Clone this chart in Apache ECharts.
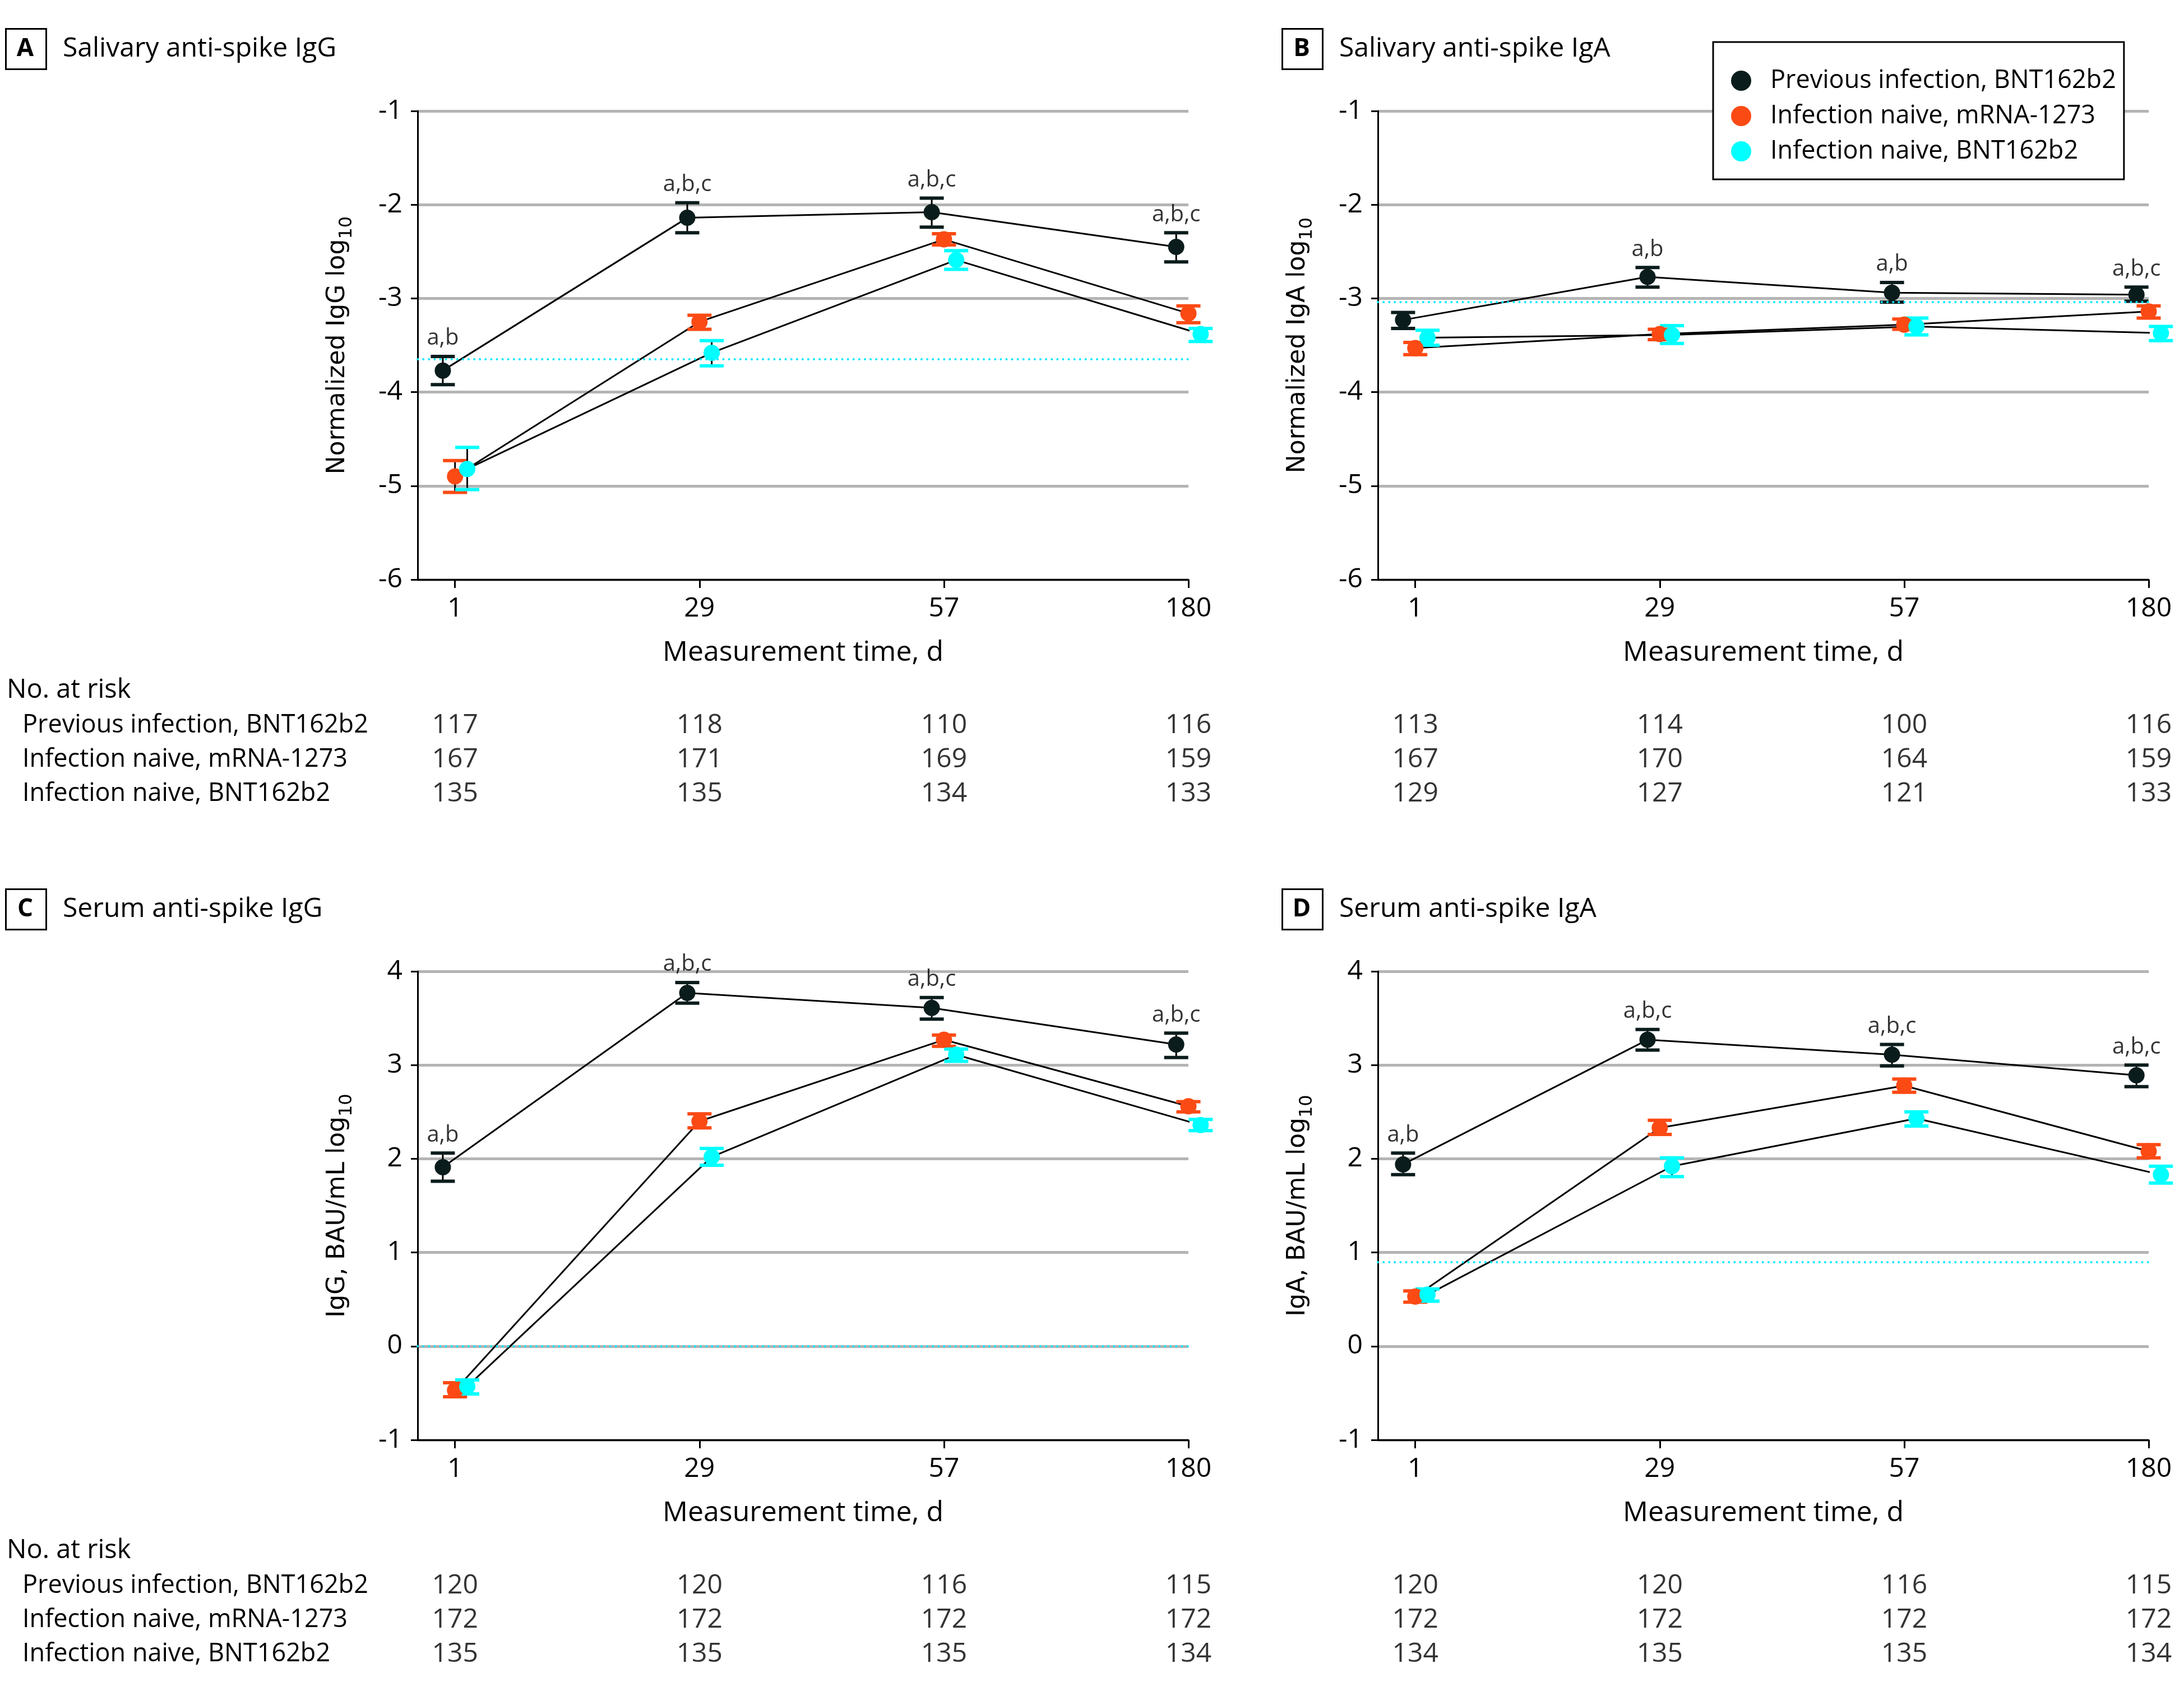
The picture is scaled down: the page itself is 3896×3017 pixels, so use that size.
<!DOCTYPE html>
<html><head><meta charset="utf-8">
<script src="https://cdn.jsdelivr.net/npm/echarts@6/dist/echarts.min.js"></script>
<style>html,body{margin:0;padding:0;background:#fff}#c{width:3896px;height:3017px}</style>
</head><body><div id="c"></div>
<script>
// ---------- DATA ----------
const timeLabels = ['1', '29', '57', '180'];
const groupNames = ['Previous infection, BNT162b2', 'Infection naive, mRNA-1273', 'Infection naive, BNT162b2'];

// Panel A: Salivary anti-spike IgG (normalized, log10)
const A_prev = [-3.77, -2.14, -2.08, -2.45];
const A_prev_lo = [-3.92, -2.30, -2.24, -2.61];
const A_prev_hi = [-3.62, -1.98, -1.93, -2.30];
const A_mrna = [-4.90, -3.25, -2.37, -3.16];
const A_mrna_lo = [-5.07, -3.33, -2.43, -3.26];
const A_mrna_hi = [-4.73, -3.18, -2.31, -3.08];
const A_bnt = [-4.82, -3.58, -2.59, -3.38];
const A_bnt_lo = [-5.04, -3.72, -2.69, -3.46];
const A_bnt_hi = [-4.59, -3.45, -2.49, -3.32];
const A_threshold = -3.65;
const A_ann = ['a,b', 'a,b,c', 'a,b,c', 'a,b,c'];
const A_risk_prev = [117, 118, 110, 116];
const A_risk_mrna = [167, 171, 169, 159];
const A_risk_bnt = [135, 135, 134, 133];

// Panel B: Salivary anti-spike IgA
const B_prev = [-3.23, -2.77, -2.94, -2.96];
const B_prev_lo = [-3.32, -2.88, -3.04, -3.03];
const B_prev_hi = [-3.15, -2.67, -2.83, -2.88];
const B_mrna = [-3.53, -3.38, -3.28, -3.14];
const B_mrna_lo = [-3.60, -3.44, -3.33, -3.21];
const B_mrna_hi = [-3.47, -3.33, -3.22, -3.08];
const B_bnt = [-3.42, -3.39, -3.30, -3.37];
const B_bnt_lo = [-3.50, -3.48, -3.39, -3.45];
const B_bnt_hi = [-3.34, -3.29, -3.21, -3.30];
const B_threshold = -3.04;
const B_ann = ['', 'a,b', 'a,b', 'a,b,c'];
const B_risk_prev = [113, 114, 100, 116];
const B_risk_mrna = [167, 170, 164, 159];
const B_risk_bnt = [129, 127, 121, 133];

// Panel C: Serum anti-spike IgG (BAU/mL, log10)
const C_prev = [1.91, 3.77, 3.61, 3.22];
const C_prev_lo = [1.76, 3.66, 3.49, 3.08];
const C_prev_hi = [2.06, 3.88, 3.72, 3.34];
const C_mrna = [-0.47, 2.40, 3.27, 2.56];
const C_mrna_lo = [-0.54, 2.33, 3.20, 2.50];
const C_mrna_hi = [-0.39, 2.48, 3.32, 2.61];
const C_bnt = [-0.43, 2.02, 3.11, 2.36];
const C_bnt_lo = [-0.51, 1.93, 3.04, 2.30];
const C_bnt_hi = [-0.36, 2.11, 3.17, 2.42];
const C_threshold = 0;
const C_ann = ['a,b', 'a,b,c', 'a,b,c', 'a,b,c'];
const C_risk_prev = [120, 120, 116, 115];
const C_risk_mrna = [172, 172, 172, 172];
const C_risk_bnt = [135, 135, 135, 134];

// Panel D: Serum anti-spike IgA
const D_prev = [1.94, 3.27, 3.11, 2.89];
const D_prev_lo = [1.83, 3.16, 2.99, 2.77];
const D_prev_hi = [2.06, 3.38, 3.22, 3.00];
const D_mrna = [0.53, 2.33, 2.78, 2.08];
const D_mrna_lo = [0.47, 2.26, 2.71, 2.01];
const D_mrna_hi = [0.59, 2.41, 2.85, 2.15];
const D_bnt = [0.55, 1.92, 2.43, 1.83];
const D_bnt_lo = [0.48, 1.81, 2.35, 1.74];
const D_bnt_hi = [0.61, 2.01, 2.50, 1.92];
const D_threshold = 0.90;
const D_ann = ['a,b', 'a,b,c', 'a,b,c', 'a,b,c'];
const D_risk_prev = [120, 120, 116, 115];
const D_risk_mrna = [172, 172, 172, 172];
const D_risk_bnt = [134, 135, 135, 134];

// ---------- LAYOUT / STYLE ----------
const FONT = "'Open Sans', 'Noto Sans', sans-serif";
const YFONT = "'DejaVu Sans', sans-serif";
const colors = ['#0b1c1c', '#fc4a14', '#00ffff'];
const dodge = [-0.05, 0, 0.05];
const X_MIN = -0.153, X_MAX = 3;
const GRID_W = 1375;
const GRID_H = 836;

const panels = [
  {letter: 'A', title: 'Salivary anti-spike IgG', yName: 'Normalized IgG log', yMin: -6, yMax: -1,
   mean: [A_prev, A_mrna, A_bnt], lo: [A_prev_lo, A_mrna_lo, A_bnt_lo], hi: [A_prev_hi, A_mrna_hi, A_bnt_hi],
   thr: A_threshold, ann: A_ann, risk: [A_risk_prev, A_risk_mrna, A_risk_bnt], left: 745, top: 198, col: 0},
  {letter: 'B', title: 'Salivary anti-spike IgA', yName: 'Normalized IgA log', yMin: -6, yMax: -1,
   mean: [B_prev, B_mrna, B_bnt], lo: [B_prev_lo, B_mrna_lo, B_bnt_lo], hi: [B_prev_hi, B_mrna_hi, B_bnt_hi],
   thr: B_threshold, ann: B_ann, risk: [B_risk_prev, B_risk_mrna, B_risk_bnt], left: 2458, top: 198, col: 1},
  {letter: 'C', title: 'Serum anti-spike IgG', yName: 'IgG, BAU/mL log', yMin: -1, yMax: 4,
   mean: [C_prev, C_mrna, C_bnt], lo: [C_prev_lo, C_mrna_lo, C_bnt_lo], hi: [C_prev_hi, C_mrna_hi, C_bnt_hi],
   thr: C_threshold, ann: C_ann, risk: [C_risk_prev, C_risk_mrna, C_risk_bnt], left: 745, top: 1733, col: 0},
  {letter: 'D', title: 'Serum anti-spike IgA', yName: 'IgA, BAU/mL log', yMin: -1, yMax: 4,
   mean: [D_prev, D_mrna, D_bnt], lo: [D_prev_lo, D_mrna_lo, D_bnt_lo], hi: [D_prev_hi, D_mrna_hi, D_bnt_hi],
   thr: D_threshold, ann: D_ann, risk: [D_risk_prev, D_risk_mrna, D_risk_bnt], left: 2458, top: 1733, col: 1}
];

function makeErr(color) {
  return function (params, api) {
    const x = api.value(0), lo = api.value(1), hi = api.value(2);
    const pHi = api.coord([x, hi]), pLo = api.coord([x, lo]);
    const hw = 21.5, th = 6;
    return {type: 'group', children: [
      {type: 'line', shape: {x1: pHi[0], y1: pHi[1], x2: pLo[0], y2: pLo[1]}, style: {stroke: '#000', lineWidth: 3}},
      {type: 'rect', shape: {x: pHi[0] - hw, y: pHi[1] - th / 2, width: 2 * hw, height: th}, style: {fill: color}},
      {type: 'rect', shape: {x: pLo[0] - hw, y: pLo[1] - th / 2, width: 2 * hw, height: th}, style: {fill: color}}
    ]};
  };
}

const grids = [], xAxes = [], yAxes = [], series = [], graphics = [];

panels.forEach((p, i) => {
  grids.push({left: p.left, top: p.top, width: GRID_W, height: GRID_H, containLabel: false});
  xAxes.push({
    type: 'value', gridIndex: i, min: X_MIN, max: X_MAX,
    name: 'Measurement time, d', nameLocation: 'middle', nameGap: 106,
    nameTextStyle: {fontFamily: FONT, fontSize: 50, color: '#000'},
    axisLine: {show: true, onZero: false, lineStyle: {color: '#000', width: 3}},
    axisTick: {show: true, length: 15, customValues: [0, 1, 2, 3], lineStyle: {color: '#000', width: 3}},
    axisLabel: {show: true, customValues: [0, 1, 2, 3], margin: 28, fontFamily: FONT, fontSize: 48, color: '#000',
      formatter: v => timeLabels[Math.round(v)]},
    splitLine: {show: false}
  });
  yAxes.push({
    type: 'value', gridIndex: i, min: p.yMin, max: p.yMax, interval: 1,
    name: '{a|' + p.yName + '}{b|10}', nameLocation: 'middle', nameGap: 110,
    nameTextStyle: {rich: {
      a: {fontFamily: YFONT, fontSize: 44, color: '#000', lineHeight: 64},
      b: {fontFamily: YFONT, fontSize: 32, color: '#000', lineHeight: 32, verticalAlign: 'bottom'}
    }},
    axisLine: {show: true, onZero: false, lineStyle: {color: '#000', width: 3}},
    axisTick: {show: true, length: 12, lineStyle: {color: '#000', width: 3}},
    axisLabel: {margin: 27, fontFamily: FONT, fontSize: 48, color: '#000', formatter: v => String(v)},
    splitLine: {show: true, lineStyle: {color: '#b4b4b4', width: 5}}
  });

  for (let g = 0; g < 3; g++) {
    const pts = p.mean[g].map((v, k) => [k + dodge[g], v]);
    series.push({type: 'line', xAxisIndex: i, yAxisIndex: i, data: pts, symbol: 'none', silent: true, clip: false,
      lineStyle: {color: '#000', width: 3}, z: 2});
    series.push({type: 'custom', xAxisIndex: i, yAxisIndex: i, renderItem: makeErr(colors[g]), clip: false,
      data: p.lo[g].map((v, k) => [k + dodge[g], v, p.hi[g][k]]), encode: {x: 0, y: [1, 2]}, z: 3, silent: true});
    const sc = {type: 'scatter', name: groupNames[g], xAxisIndex: i, yAxisIndex: i, data: pts, clip: false,
      symbol: 'circle', symbolSize: 29, itemStyle: {color: colors[g], opacity: 1}, z: 4};
    if (g === 2) {
      sc.markLine = {symbol: 'none', silent: true, label: {show: false},
        lineStyle: {color: '#00e8ff', width: 4, type: [0.1, 10], cap: 'round'},
        data: [{yAxis: p.thr}]};
    }
    series.push(sc);
  }
  // significance annotations above the upper error bar of the previous-infection group
  const annData = [];
  p.ann.forEach((t, k) => { if (t) annData.push([k + dodge[0], p.hi[0][k], t]); });
  series.push({type: 'scatter', xAxisIndex: i, yAxisIndex: i, data: annData, symbolSize: 0.1, silent: true, clip: false,
    itemStyle: {color: 'rgba(0,0,0,0)'}, z: 5,
    label: {show: true, position: 'top', distance: 12, formatter: q => q.value[2],
      fontFamily: FONT, fontSize: 40, color: '#000'}});

  // panel letter box + title
  const bx = p.col === 0 ? 9 : 2286;
  const by = p.top - 148;
  graphics.push({type: 'rect', left: bx, top: by, shape: {width: 72, height: 72},
    style: {fill: '#fff', stroke: '#000', lineWidth: 3}});
  graphics.push({type: 'text', x: bx + 36, y: by + 37, style: {text: p.letter, fontFamily: FONT, fontSize: 44,
    fontWeight: 'bold', fill: '#000', align: 'center', verticalAlign: 'middle'}});
  graphics.push({type: 'text', x: bx + 103, y: by + 37, style: {text: p.title, fontFamily: FONT, fontSize: 48,
    fill: '#000', align: 'left', verticalAlign: 'middle'}});
});

// at-risk tables (one small grid per panel, sharing the panel's x scale)
panels.forEach((p, i) => {
  const gi = 4 + i;
  const ttop = p.top + 1066;
  grids.push({left: p.left, top: ttop, width: GRID_W, height: 183});
  xAxes.push({type: 'value', gridIndex: gi, min: X_MIN, max: X_MAX, show: false});
  yAxes.push({type: 'category', gridIndex: gi, data: groupNames, inverse: true,
    axisLine: {show: false}, axisTick: {show: false}, splitLine: {show: false},
    axisLabel: {show: p.col === 0, align: 'left', margin: p.left - 40, fontFamily: FONT, fontSize: 45, color: '#000'}});
  const d = [];
  p.risk.forEach((row, r) => row.forEach((n, k) => d.push([k, r, n])));
  series.push({type: 'scatter', xAxisIndex: gi, yAxisIndex: gi, data: d, symbolSize: 0.1, silent: true,
    itemStyle: {color: 'rgba(0,0,0,0)'},
    label: {show: true, position: 'inside', formatter: q => String(q.value[2]), fontFamily: FONT, fontSize: 48, color: '#000'}});
  if (p.col === 0) {
    graphics.push({type: 'text', x: 12, y: ttop - 32, style: {text: 'No. at risk', fontFamily: FONT, fontSize: 47,
      fill: '#000', align: 'left', verticalAlign: 'middle'}});
  }
});

const chart = echarts.init(document.getElementById('c'), null, {renderer: 'canvas'});
chart.setOption({
  animation: false,
  backgroundColor: '#fff',
  grid: grids, xAxis: xAxes, yAxis: yAxes, series: series,
  legend: {
    data: groupNames, orient: 'vertical', left: 3056, top: 75, icon: 'circle',
    itemWidth: 36, itemHeight: 36, itemGap: 17,
    padding: [46, 14, 27, 32], backgroundColor: '#fff', borderColor: '#000', borderWidth: 3,
    textStyle: {fontFamily: FONT, fontSize: 45, color: '#000', lineHeight: 46, padding: [0, 0, 0, 29]},
    selectedMode: false
  },
  graphic: graphics
});
</script>
</body></html>
